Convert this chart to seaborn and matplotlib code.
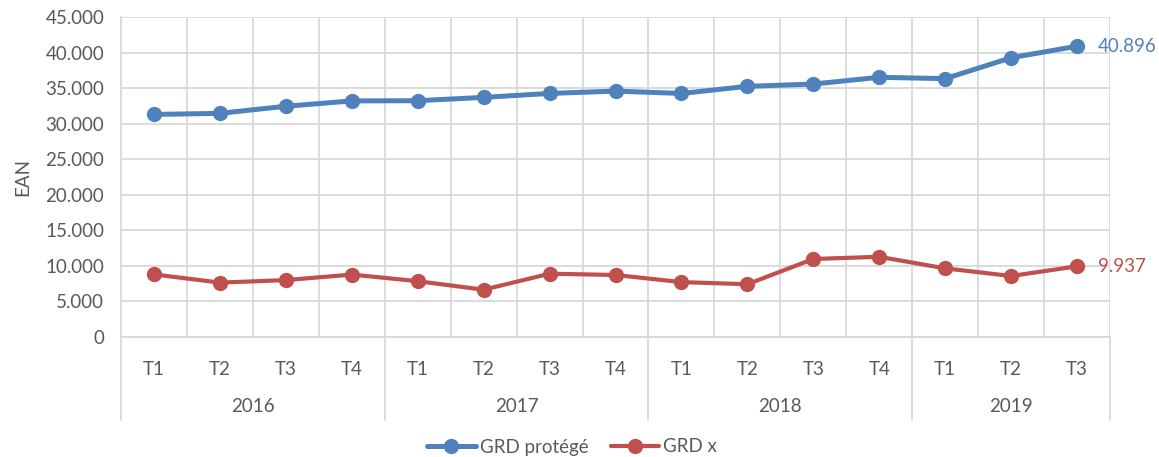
import matplotlib
matplotlib.use("Agg")
import matplotlib.pyplot as plt
import matplotlib.transforms as mtransforms
from matplotlib.lines import Line2D
import seaborn as sns
import pandas as pd
import numpy as np

# ---- data ----
quarters = ["T1", "T2", "T3", "T4", "T1", "T2", "T3", "T4", "T1", "T2", "T3", "T4", "T1", "T2", "T3"]
years = ["2016", "2017", "2018", "2019"]
year_counts = [4, 4, 4, 3]
grd_protege = [31300, 31450, 32450, 33200, 33230, 33700, 34250, 34580, 34250, 35250,
               35570, 36520, 36330, 39270, 40896]
grd_x = [8800, 7650, 8000, 8780, 7850, 6650, 8900, 8720, 7720, 7420,
         10970, 11280, 9650, 8580, 9937]
series_names = ["GRD protégé", "GRD x"]
colors = ["#4F81BD", "#C0504D"]

n = len(quarters)
df = pd.DataFrame({
    "idx": list(range(n)) * 2,
    "value": grd_protege + grd_x,
    "series": [series_names[0]] * n + [series_names[1]] * n,
})

sns.set_theme(style="white")
plt.rcParams["font.family"] = ["Lato", "DejaVu Sans"]
txt = "#595959"
grid_c = "#D9D9D9"
fs = 13.5

fig = plt.figure(figsize=(11.59, 4.57), dpi=100)
ax = fig.add_axes([121 / 1159, 1 - 337 / 457, (1110 - 121) / 1159, (337 - 17) / 457])

widths = [3.6, 3.0]
for name, col, lw in zip(series_names, colors, widths):
    sns.lineplot(data=df[df["series"] == name], x="idx", y="value", color=col,
                 linewidth=lw, marker="o", markersize=11, markeredgewidth=0,
                 ax=ax, legend=False, zorder=3)

ax.set_xlim(-0.5, n - 0.5)
ax.set_ylim(0, 45000)
ax.set_yticks(np.arange(0, 45001, 5000))
ax.set_yticklabels([f"{v:,}".replace(",", ".") for v in range(0, 45001, 5000)],
                   color=txt, fontsize=fs)
ax.set_xticks(range(n))
ax.set_xticklabels(quarters, color=txt, fontsize=fs)
ax.set_xticks(np.arange(-0.5, n, 1.0), minor=True)
ax.tick_params(axis="both", which="both", length=0)
ax.tick_params(axis="x", which="major", pad=17)
ax.tick_params(axis="y", pad=12)
ax.grid(False)
ax.grid(axis="x", which="minor", color=grid_c, linewidth=1.3)
ax.grid(axis="y", which="major", color=grid_c, linewidth=1.3)
ax.set_axisbelow(True)
for s in ax.spines.values():
    s.set_color(grid_c)
    s.set_linewidth(1.3)
ax.spines["top"].set_visible(False)
ax.spines["right"].set_visible(False)

ax.set_xlabel("")
ax.set_ylabel("EAN", color=txt, fontsize=fs, labelpad=10)

# Year level of the category axis
trans = mtransforms.blended_transform_factory(ax.transData, ax.transAxes)
sep_bottom = -(420 - 337) / 320
start = 0
bounds = [-0.5]
for y, c in zip(years, year_counts):
    center = start + (c - 1) / 2
    ax.text(center, -(407 - 337) / 320, y, transform=trans, ha="center", va="center",
            color=txt, fontsize=fs)
    start += c
    bounds.append(start - 0.5)
for b in bounds:
    ax.add_line(Line2D([b, b], [0, sep_bottom], transform=trans, color=grid_c,
                       linewidth=1.3, clip_on=False))

# End labels
for vals, col in zip([grd_protege, grd_x], colors):
    ax.annotate(f"{vals[-1]:,}".replace(",", "."), xy=(n - 1, vals[-1]),
                xytext=(15, 0), textcoords="offset points", ha="left", va="center",
                color=col, fontsize=fs)

handles = [Line2D([], [], color=c, linewidth=lw, marker="o", markersize=11,
                  markeredgewidth=0) for c, lw in zip(colors, widths)]
fig.legend(handles, series_names, loc="center", bbox_to_anchor=(572 / 1159, 1 - 447 / 457),
           ncol=2, frameon=False, fontsize=fs, labelcolor=txt, handlelength=2.6,
           handletextpad=0.2, columnspacing=1.2)

fig.savefig("out.png", dpi=100)
